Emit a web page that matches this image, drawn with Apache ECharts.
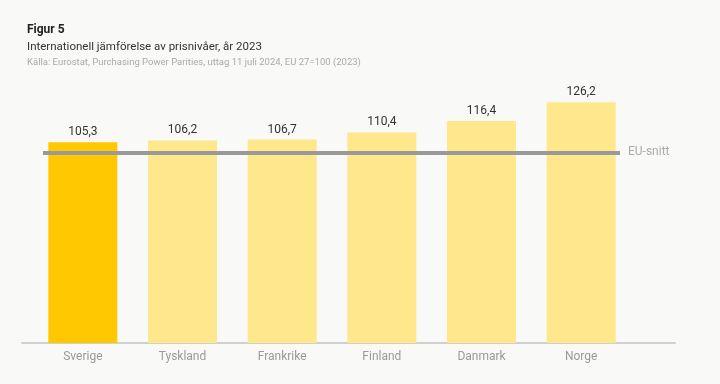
<!DOCTYPE html>
<html><head><meta charset="utf-8">
<script src="https://cdn.jsdelivr.net/npm/echarts@6/dist/echarts.min.js"></script>
<style>html,body{margin:0;padding:0;background:#f9f9f7;}#c{width:720px;height:384px;}</style>
</head><body><div id="c"></div>
<script>
const categories = ['Sverige','Tyskland','Frankrike','Finland','Danmark','Norge'];
const values = [105.3, 106.2, 106.7, 110.4, 116.4, 126.2];
const euAverage = 100;
const highlight = 'Sverige';

const font = 'Roboto, "Noto Sans", sans-serif';
const chart = echarts.init(document.getElementById('c'));
chart.setOption({
  backgroundColor: '#f9f9f7',
  animation: false,
  textStyle: { fontFamily: font },
  title: [
    { text: 'Figur 5', left: 22, top: 19, textStyle: { fontSize: 12, fontWeight: 'bold', color: '#222', fontFamily: font } },
    { text: 'Internationell jämförelse av prisnivåer, år 2023', left: 22, top: 36, textStyle: { fontSize: 11.5, fontWeight: 'normal', color: '#333', fontFamily: font } },
    { text: 'Källa: Eurostat, Purchasing Power Parities, uttag 11 juli 2024, EU 27=100 (2023)', left: 22, top: 53, textStyle: { fontSize: 9.5, fontWeight: 'normal', color: '#aaa', fontFamily: font } }
  ],
  grid: [
    { left: 33, right: 89, top: 76, bottom: 41 },
    { left: 22, right: 45, top: 76, bottom: 41 }
  ],
  xAxis: [
    { type: 'category', gridIndex: 0, data: categories,
      axisLine: { show: false }, axisTick: { show: false },
      axisLabel: { color: '#999', fontSize: 12, margin: 8, fontFamily: font } },
    { type: 'value', gridIndex: 1, min: 0, max: 1,
      axisLine: { show: true, onZero: false, lineStyle: { color: '#d0d0d0', width: 2 } },
      axisTick: { show: false }, axisLabel: { show: false }, splitLine: { show: false } }
  ],
  yAxis: [
    { type: 'value', gridIndex: 0, min: 0, max: 140, show: false, splitLine: { show: false } },
    { type: 'value', gridIndex: 1, min: 0, max: 1, show: false, splitLine: { show: false } }
  ],
  series: [{
    type: 'bar', xAxisIndex: 0, yAxisIndex: 0,
    barWidth: 69,
    data: values.map((v, i) => ({
      value: v,
      itemStyle: { color: categories[i] === highlight ? '#ffc800' : '#ffe88c' }
    })),
    label: {
      show: true, position: 'top', distance: 4, color: '#333', fontSize: 12, fontFamily: font,
      formatter: p => String(p.value).replace('.', ',')
    },
    markLine: {
      silent: true, symbol: ['none', 'none'],
      lineStyle: { color: '#999', width: 4, type: 'solid' },
      label: { show: true, position: 'end', formatter: 'EU-snitt', color: '#aaa', fontSize: 12, distance: 8, fontFamily: font },
      data: [[{ yAxis: euAverage, x: 43 }, { yAxis: euAverage, x: 620 }]]
    }
  }]
});
</script></body></html>
